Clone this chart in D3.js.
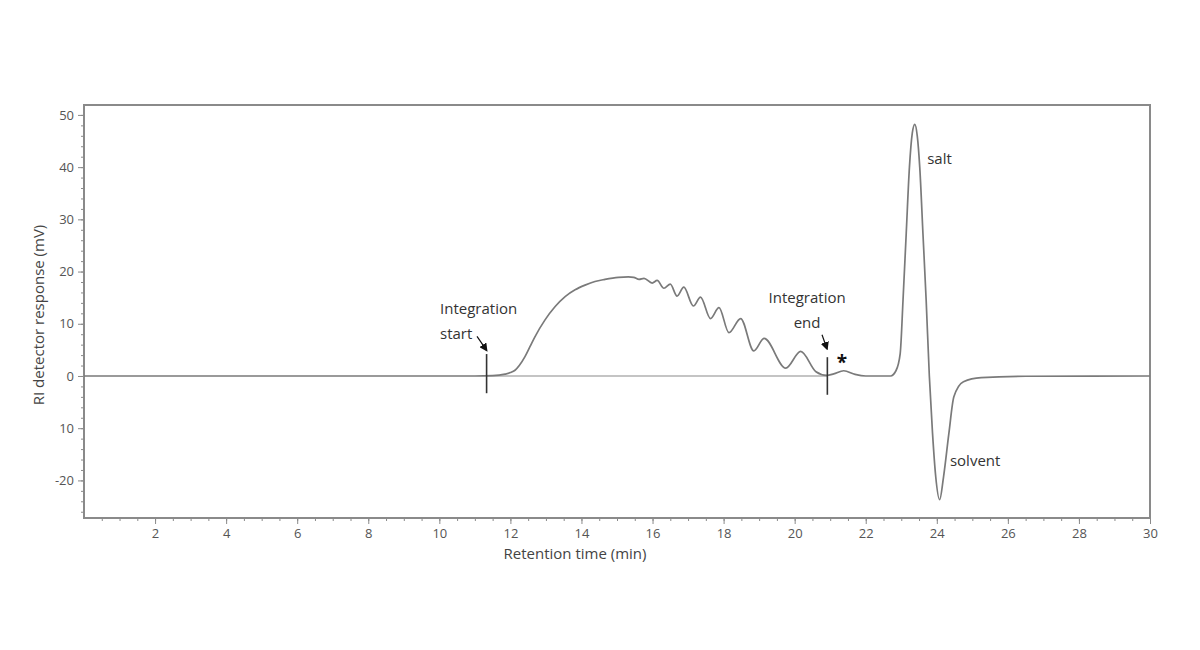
<!DOCTYPE html>
<html>
<head>
<meta charset="utf-8">
<script src="https://cdn.jsdelivr.net/npm/d3@7"></script>
<style>
  body { margin: 0; background: #fff; }
  text { font-family: "Open Sans", sans-serif; }
</style>
</head>
<body>
<div id="chart"></div>
<script>
// chromatogram trace (time in min, response in mV)
var retentionTime = [0, 10, 11.0, 11.5, 11.85, 12.0, 12.13, 12.25, 12.41, 12.55, 12.69, 12.97,
  13.26, 13.54, 13.82, 14.1, 14.38, 14.66, 15.04, 15.32,
  15.47, 15.62, 15.76, 15.99, 16.13, 16.32, 16.5, 16.69, 16.88, 17.15, 17.35, 17.63, 17.87,
  18.15, 18.48, 18.85, 19.14, 19.75, 20.17, 20.6, 20.9, 21.1, 21.38, 21.7, 22.0, 22.7,
  22.85, 22.97, 23.05, 23.14, 23.23, 23.31, 23.38, 23.45, 23.52, 23.61, 23.7, 23.79, 23.88,
  23.97, 24.08, 24.19, 24.34, 24.48, 24.75, 25.25, 26.5, 30];
var response = [0, 0, 0, 0.05, 0.35, 0.65, 1.1, 2.0, 3.7, 5.6, 7.5, 10.7,
  13.3, 15.2, 16.5, 17.4, 18.1, 18.5, 18.9, 19.0,
  18.9, 18.5, 18.7, 17.8, 18.3, 16.8, 17.6, 15.3, 17.0, 13.4, 15.1, 11.0, 13.1,
  8.3, 11.0, 4.8, 7.2, 1.5, 4.7, 0.8, 0.1, 0.4, 1.0, 0.3, 0, 0,
  1.0, 4.3, 14.6, 27.4, 40, 46.5, 48.2, 46.0, 40, 27.3, 14.6, 0, -11,
  -19.3, -23.7, -19.3, -11, -4, -1.1, -0.3, -0.05, 0];

// integration window markers (min)
var integrationTimes = [11.33, 20.92];
var markerTop = [4.2, 3.6];
var markerBottom = [-3.3, -3.6];

// ticks
var xTickValues = [2, 4, 6, 8, 10, 12, 14, 16, 18, 20, 22, 24, 26, 28, 30];
var yTickValues = [-20, -10, 0, 10, 20, 30, 40, 50];
var yTickLabels = ["-20", "10", "0", "10", "20", "30", "40", "50"];

// annotations
var noteText = ["Integration", "start", "Integration", "end", "*", "salt", "solvent"];
var noteTime = [10.02, 10.02, 20.35, 20.35, 21.33, 23.73, 24.37];
var noteValue = [11.9, 7.1, 14.0, 9.2, 1.4, 40.6, -17.2];
var noteAnchor = ["start", "start", "middle", "middle", "middle", "start", "start"];

var arrowFrom = [[11.06, 7.6], [20.77, 7.9]];
var arrowTo = [[11.33, 4.9], [20.91, 5.2]];

var width = 1200, height = 650;
var margin = {left: 84, right: 50, top: 105, bottom: 132};

var svg = d3.select("#chart").append("svg")
  .attr("width", width)
  .attr("height", height);

var x = d3.scaleLinear().domain([0, 30]).range([margin.left, width - margin.right]);
var y = d3.scaleLinear().domain([-27.2, 51.9]).range([height - margin.bottom, margin.top]);

var axisColor = "#8a8a8a";

// minor ticks first so the major ones sit on top
svg.append("g")
  .attr("transform", "translate(0," + y.range()[0] + ")")
  .call(d3.axisBottom(x).tickValues(d3.range(0.5, 30, 0.5)).tickSize(3).tickFormat(""))
  .call(function(g) { g.select(".domain").remove(); })
  .selectAll("line").attr("stroke", axisColor);

svg.append("g")
  .attr("transform", "translate(" + x.range()[0] + ",0)")
  .call(d3.axisLeft(y).tickValues(d3.range(-26, 51, 2)).tickSize(3).tickFormat(""))
  .call(function(g) { g.select(".domain").remove(); })
  .selectAll("line").attr("stroke", axisColor);

var xAxis = svg.append("g")
  .attr("transform", "translate(0," + y.range()[0] + ")")
  .call(d3.axisBottom(x).tickValues(xTickValues).tickSize(6).tickPadding(5));
xAxis.select(".domain").remove();
xAxis.selectAll("line").attr("stroke", axisColor);
xAxis.selectAll("text").attr("fill", "#555").style("font-size", "13px");

var yAxis = svg.append("g")
  .attr("transform", "translate(" + x.range()[0] + ",0)")
  .call(d3.axisLeft(y).tickValues(yTickValues).tickSize(6).tickPadding(4)
    .tickFormat(function(d, i) { return yTickLabels[i]; }));
yAxis.select(".domain").remove();
yAxis.selectAll("line").attr("stroke", axisColor);
yAxis.selectAll("text").attr("fill", "#555").style("font-size", "13px");

// plot frame
svg.append("rect")
  .attr("x", x.range()[0])
  .attr("y", y.range()[1])
  .attr("width", x.range()[1] - x.range()[0])
  .attr("height", y.range()[0] - y.range()[1])
  .attr("fill", "none")
  .attr("stroke", axisColor)
  .attr("stroke-width", 2);

// axis titles
svg.append("text")
  .attr("x", 575)
  .attr("y", 559)
  .attr("text-anchor", "middle")
  .attr("fill", "#444")
  .style("font-size", "15px")
  .text("Retention time (min)");

svg.append("text")
  .attr("transform", "translate(44," + 315 + ") rotate(-90)")
  .attr("text-anchor", "middle")
  .attr("fill", "#444")
  .style("font-size", "15px")
  .text("RI detector response (mV)");

// integration baseline under the polymer hump
svg.append("line")
  .attr("x1", x(integrationTimes[0]))
  .attr("x2", x(integrationTimes[1]))
  .attr("y1", y(0))
  .attr("y2", y(0))
  .attr("stroke", "#c4c4c4")
  .attr("stroke-width", 2);

// trace
var trace = retentionTime.map(function(t, i) { return [t, response[i]]; });

var line = d3.line()
  .x(function(d) { return x(d[0]); })
  .y(function(d) { return y(d[1]); })
  .curve(d3.curveMonotoneX);

svg.append("path")
  .datum(trace)
  .attr("d", line)
  .attr("fill", "none")
  .attr("stroke", "#7a7a7a")
  .attr("stroke-width", 1.7);

// integration markers
svg.selectAll(".marker")
  .data(integrationTimes)
  .enter()
  .append("line")
  .attr("class", "marker")
  .attr("x1", function(d) { return x(d); })
  .attr("x2", function(d) { return x(d); })
  .attr("y1", function(d, i) { return y(markerTop[i]); })
  .attr("y2", function(d, i) { return y(markerBottom[i]); })
  .attr("stroke", "#333")
  .attr("stroke-width", 1.6);

// arrows
svg.append("defs").append("marker")
  .attr("id", "head")
  .attr("viewBox", "0 0 10 10")
  .attr("refX", 8)
  .attr("refY", 5)
  .attr("markerWidth", 7)
  .attr("markerHeight", 7)
  .attr("orient", "auto")
  .append("path")
  .attr("d", "M0,0 L10,5 L0,10 z")
  .attr("fill", "#111");

svg.selectAll(".arrow")
  .data(arrowFrom)
  .enter()
  .append("line")
  .attr("class", "arrow")
  .attr("x1", function(d) { return x(d[0]); })
  .attr("y1", function(d) { return y(d[1]); })
  .attr("x2", function(d, i) { return x(arrowTo[i][0]); })
  .attr("y2", function(d, i) { return y(arrowTo[i][1]); })
  .attr("stroke", "#111")
  .attr("stroke-width", 1.2)
  .attr("marker-end", "url(#head)");

// labels
svg.selectAll(".note")
  .data(noteText)
  .enter()
  .append("text")
  .attr("class", "note")
  .attr("x", function(d, i) { return x(noteTime[i]); })
  .attr("y", function(d, i) { return y(noteValue[i]); })
  .attr("text-anchor", function(d, i) { return noteAnchor[i]; })
  .attr("fill", function(d) { return d == "*" ? "#111" : "#333"; })
  .style("font-size", function(d) { return d == "*" ? "19px" : "15px"; })
  .style("font-weight", function(d) { return d == "*" ? "bold" : "normal"; })
  .text(function(d) { return d; });
</script>
</body>
</html>
